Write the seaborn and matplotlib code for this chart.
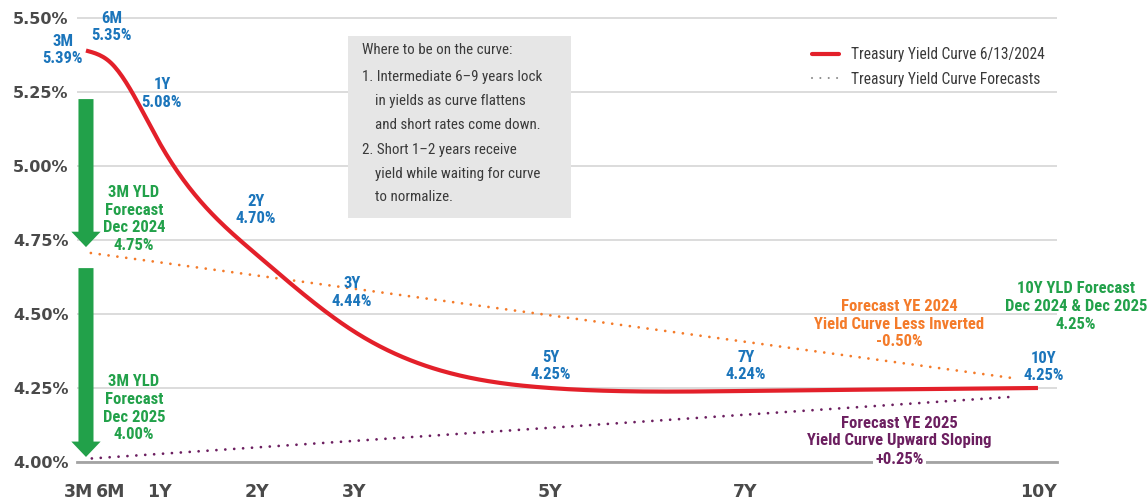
import numpy as np
import pandas as pd
import matplotlib
matplotlib.use("Agg")
import matplotlib.pyplot as plt
import seaborn as sns
from matplotlib.patches import Rectangle, FancyArrow
from matplotlib.lines import Line2D
from matplotlib.transforms import ScaledTranslation

# ---------------- data ----------------
tenor_labels = ["3M", "6M", "1Y", "2Y", "3Y", "5Y", "7Y", "10Y"]
tenor_years = [0.25, 0.5, 1, 2, 3, 5, 7, 10]
yields_current = [5.39, 5.35, 5.08, 4.70, 4.44, 4.25, 4.24, 4.25]

# forecast lines (as drawn: start near 3M, end near 10Y)
fc2024_x = [0.30, 9.73]
fc2024_y = [4.706, 4.284]
fc2025_x = [0.31, 9.73]
fc2025_y = [4.012, 4.220]

fc_3m_2024 = 4.75
fc_3m_2025 = 4.00
fc_10y = 4.25
spread_2024 = -0.50
spread_2025 = 0.25

yticks = [4.00, 4.25, 4.50, 4.75, 5.00, 5.25, 5.50]

# ---------------- styles ----------------
RED = "#e3202a"
BLUE = "#1b75bb"
GREEN = "#22a14a"
ORANGE = "#f47b2a"
PURPLE = "#6c1f60"
GRAY_TXT = "#4a4a4a"
BOX_TXT = "#3a3a3a"
NARROW = ["Roboto Condensed", "DejaVu Sans Condensed", "Roboto", "DejaVu Sans"]
WIDE = ["DejaVu Sans"]

sns.set_theme(style="white")
plt.rcParams["font.family"] = NARROW


def natural_spline(x, y, n=500):
    x = np.asarray(x, float)
    y = np.asarray(y, float)
    k = len(x)
    h = np.diff(x)
    A = np.zeros((k, k))
    b = np.zeros(k)
    A[0, 0] = A[-1, -1] = 1
    for i in range(1, k - 1):
        A[i, i - 1] = h[i - 1]
        A[i, i] = 2 * (h[i - 1] + h[i])
        A[i, i + 1] = h[i]
        b[i] = 3 * ((y[i + 1] - y[i]) / h[i] - (y[i] - y[i - 1]) / h[i - 1])
    c = np.linalg.solve(A, b)
    bb = (y[1:] - y[:-1]) / h - h * (2 * c[:-1] + c[1:]) / 3
    d = (c[1:] - c[:-1]) / (3 * h)
    xs = np.linspace(x[0], x[-1], n)
    idx = np.clip(np.searchsorted(x, xs) - 1, 0, k - 2)
    dx = xs - x[idx]
    ys = y[idx] + bb[idx] * dx + c[idx] * dx ** 2 + d[idx] * dx ** 3
    return xs, ys


fig = plt.figure(figsize=(11.48, 5.0), dpi=100)
ax = fig.add_axes([77 / 1148, 38 / 500, 980 / 1148, 445.5 / 500])

# smooth current curve
sx, sy = natural_spline(tenor_years, yields_current)
curve = pd.DataFrame({"years": sx, "yield": sy})
sns.lineplot(data=curve, x="years", y="yield", ax=ax, color=RED, lw=3.0,
             sort=False, estimator=None, zorder=4, solid_capstyle="butt")

DOT = (0, (0.01, 3.2))
ax.plot(fc2024_x, fc2024_y, color=ORANGE, lw=2.0, linestyle=DOT,
        dash_capstyle="round", zorder=3)
ax.plot(fc2025_x, fc2025_y, color=PURPLE, lw=2.0, linestyle=DOT,
        dash_capstyle="round", zorder=3)

# axes
ax.set_xlim(0.158, 10.195)
ax.set_ylim(4.0, 5.505)
ax.set_yticks(yticks)
ax.set_yticklabels([f"{v:.2f}%" for v in yticks])
ax.set_xticks(tenor_years)
ax.set_xticklabels(tenor_labels)
ax.set_xlabel("")
ax.set_ylabel("")
ax.yaxis.grid(True, color="#d9d9d9", lw=1.3)
ax.xaxis.grid(False)
ax.set_axisbelow(True)
for s in ["left", "top", "right"]:
    ax.spines[s].set_visible(False)
ax.spines["bottom"].set_color("#a3a3a3")
ax.spines["bottom"].set_linewidth(2.0)
ax.tick_params(axis="y", length=0, pad=6, labelsize=11.5, labelcolor=GRAY_TXT)
ax.tick_params(axis="x", length=0, pad=15, labelsize=12.5, labelcolor=GRAY_TXT)
for lab in ax.get_yticklabels():
    lab.set_fontweight("bold")
    lab.set_family(WIDE)
for lab in ax.get_xticklabels():
    lab.set_fontweight("bold")
    lab.set_family(WIDE)
first = ax.get_xticklabels()[0]
first.set_transform(first.get_transform() + ScaledTranslation(-7.5 / 100, 0, fig.dpi_scale_trans))

FS = 12
LS = 1.22
# blue point labels
lab_x = [0.014, 0.516, 1.028, 1.991, 2.974, 5.012, 7.01, 10.06]
lab_y = [5.392, 5.470, 5.245, 4.851, 4.573, 4.324, 4.324, 4.321]
for t, v, px, py in zip(tenor_labels, yields_current, lab_x, lab_y):
    ax.text(px, py, f"{t}\n{v:.2f}%", ha="center", va="center", color=BLUE,
            fontsize=FS, fontweight="bold", linespacing=LS, clip_on=False, zorder=6)

# green arrows
for top, tip in [(5.226, 4.726), (4.655, 4.017)]:
    ax.add_patch(FancyArrow(0.25, top, 0, tip - top, width=0.154, head_width=0.30,
                            head_length=0.052, length_includes_head=True,
                            color=GREEN, lw=0, zorder=5, clip_on=False))

ax.text(0.742, 4.821, f"3M YLD\nForecast\nDec 2024\n{fc_3m_2024:.2f}%", ha="center", va="center",
        color=GREEN, fontsize=FS, fontweight="bold", linespacing=LS, zorder=6)
ax.text(0.742, 4.181, f"3M YLD\nForecast\nDec 2025\n{fc_3m_2025:.2f}%", ha="center", va="center",
        color=GREEN, fontsize=FS, fontweight="bold", linespacing=LS, zorder=6)
ax.text(10.39, 4.525, f"10Y YLD Forecast\nDec 2024 & Dec 2025\n{fc_10y:.2f}%", ha="center",
        va="center", color=GREEN, fontsize=FS, fontweight="bold", linespacing=LS,
        clip_on=False, zorder=6)
ax.text(8.58, 4.465, f"Forecast YE 2024\nYield Curve Less Inverted\n{spread_2024:.2f}%",
        ha="center", va="center", color=ORANGE, fontsize=FS, fontweight="bold",
        linespacing=LS, zorder=6)
ax.text(8.58, 4.101, "Forecast YE 2025\nYield Curve Upward Sloping", ha="center", va="center",
        color=PURPLE, fontsize=FS, fontweight="bold", linespacing=LS, zorder=6)
ax.text(8.58, 4.007, f"{spread_2025:+.2f}%", ha="center", va="center", color=PURPLE,
        fontsize=FS, fontweight="bold", zorder=7, clip_on=False,
        bbox=dict(boxstyle="square,pad=0.15", fc="white", ec="none"))

# note box
ax.add_patch(Rectangle((2.933, 4.824), 5.217 - 2.933, 5.439 - 4.824,
                       facecolor="#e6e6e6", edgecolor="none", zorder=1.5))
box_lines = [
    (3.077, 5.392, "Where to be on the curve:"),
    (3.077, 5.301, "1. Intermediate 6–9 years lock"),
    (3.21, 5.220, "in yields as curve flattens"),
    (3.21, 5.139, "and short rates come down."),
    (3.077, 5.054, "2. Short 1–2 years receive"),
    (3.21, 4.973, "yield while waiting for curve"),
    (3.21, 4.895, "to normalize."),
]
for bx, by, s in box_lines:
    ax.text(bx, by, s, ha="left", va="center", color=BOX_TXT, fontsize=10.8, zorder=2)

# legend
handles = [
    Line2D([0], [0], color=RED, lw=3.0),
    Line2D([0], [0], color="#8a8a8a", lw=1.5, linestyle=(0, (0.01, 4.0)), dash_capstyle="round"),
]
leg = ax.legend(handles, ["Treasury Yield Curve 6/13/2024", "Treasury Yield Curve Forecasts"],
                loc="upper left", bbox_to_anchor=(812 / 1148, 1 - 47 / 500),
                bbox_transform=fig.transFigure, frameon=False, fontsize=11.2,
                handlelength=1.75, handletextpad=0.75, labelspacing=0.62,
                borderpad=0, borderaxespad=0)
for t in leg.get_texts():
    t.set_color(BOX_TXT)

fig.savefig("out.png", dpi=100)
